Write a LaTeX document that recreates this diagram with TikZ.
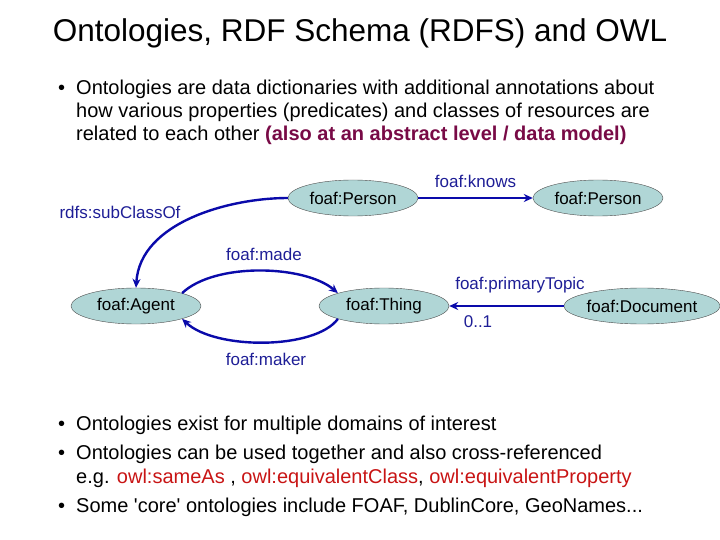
\documentclass[tikz,border=0pt]{standalone}
\usepackage{fontspec}
\setmainfont{Liberation Sans}
\newfontfamily\nomapfont{Liberation Sans}
\usetikzlibrary{shapes.geometric,arrows.meta}
\definecolor{ellfill}{RGB}{176,214,214}
\definecolor{arr}{RGB}{10,10,170}
\definecolor{lbl}{RGB}{30,30,150}
\definecolor{owlred}{RGB}{200,20,20}
\definecolor{plum}{RGB}{120,10,70}
\tikzset{
  cls/.style={ellipse,draw=black!70,fill=ellfill,minimum width=130pt,minimum height=36pt,inner sep=0pt,font=\fontsize{17}{17}\selectfont},
  rel/.style={draw=arr,line width=2.4pt,-{Stealth[length=9pt,width=8pt]}},
  lab/.style={text=lbl,font=\fontsize{17}{17}\selectfont,inner sep=0pt},
  body/.style={anchor=base west,inner sep=0pt,font=\fontsize{20}{20}\selectfont},
}
\begin{document}
\begin{tikzpicture}[x=1pt,y=-1pt]
\useasboundingbox (0,0) rectangle (720,540);
\node[inner sep=0pt,font=\fontsize{31.5}{31.5}\selectfont] (title) at (360,33) {Ontologies, RDF Schema (RDFS) and OWL};
\node[body] (b1) at (58,95) {•};
\node[body] (l1) at (76,95) {Ontologies are data dictionaries with additional annotations about};
\node[body] (l2) at (76,118) {how various properties (predicates) and classes of resources are};
\node[body] (l3) at (76,141) {related to each other \textcolor{plum}{\bfseries(also at an abstract level / data model)}};

\node[cls] (p1) at (353,198) {foaf:Person};
\node[cls] (p2) at (598,198) {foaf:Person};
\node[cls] (ag) at (136,306) {foaf:Agent};
\node[cls] (th) at (384,306) {foaf:Thing};
\node[cls] (doc) at (642,306) {foaf:Document};

\draw[rel] (p1.east) -- (p2.west) node[lab,midway,above=9pt] (lk) {foaf:knows};
\draw[rel] (p1.west) .. controls (230,198) and (140,222) .. (ag.north);
\node[lab] (lsub) at (120,212) {rdfs:subClassOf};
\draw[rel] (ag.north east) .. controls (215,262) and (305,265) .. (th.north west);
\node[lab] (lmade) at (264,254) {foaf:made};
\draw[rel] (th.south west) .. controls (315,350) and (215,350) .. (ag.south east);
\node[lab] (lmaker) at (266,359) {foaf:maker};
\draw[rel] (doc.west) -- (th.east);
\node[lab] (lpt) at (520,285) {foaf:primaryTopic};
\node[lab] (l01) at (478,322) {0..1};

\node[body] (b2) at (58,430) {•};
\node[body] (m1) at (76,430) {Ontologies exist for multiple domains of interest};
\node[body] (b3) at (58,459) {•};
\node[body] (m2) at (76,459) {Ontologies can be used together and also cross-referenced};
\node[body] (m3) at (76,483) {e.g. \textcolor{owlred}{owl:sameAs} , \textcolor{owlred}{owl:equivalentClass}, \textcolor{owlred}{owl:equivalentProperty}};
\node[body] (b4) at (58,512) {•};
\node[body] (m4) at (76,512) {Some {\nomapfont 'core'} ontologies include FOAF, DublinCore, GeoNames...};
\end{tikzpicture}
\end{document}
